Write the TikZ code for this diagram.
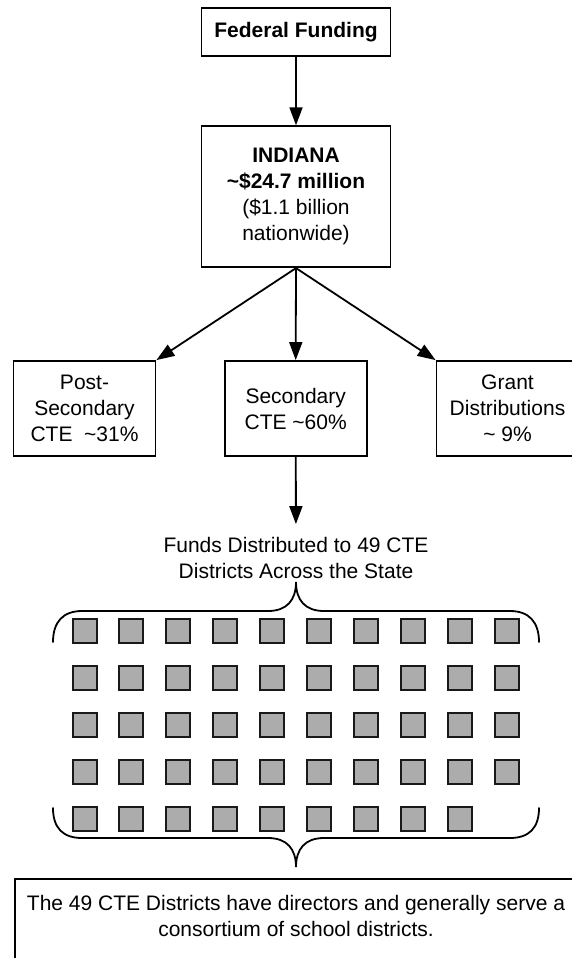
\documentclass[tikz,border=0pt]{standalone}
\usepackage{fontspec}
\setmainfont{Liberation Sans}
\usetikzlibrary{arrows.meta}
\begin{document}
\begin{tikzpicture}[x=1pt,y=-1pt,
  font=\fontsize{21}{26}\selectfont,
  box/.style={draw=black, line width=1.8pt, align=center, inner sep=0pt},
  flow/.style={line width=1.8pt, -{Triangle[length=18pt,width=13pt]}},
  district/.style={draw=black!90, line width=2pt, fill=gray!65, minimum size=24pt, inner sep=0pt},
  brace/.style={line width=1.8pt, line cap=round}]
\useasboundingbox (0,0) rectangle (571,958);

% funding chain
\node[box, minimum width=189pt, minimum height=47.5pt] (fed) at (296,32) {\bfseries Federal Funding};
\node[box, minimum width=189pt, minimum height=141pt] (ind) at (296,196.7)
  {{\bfseries INDIANA}\\{\bfseries \textasciitilde\$24.7 million}\\(\$1.1 billion\\nationwide)};

% the three shares (the right one runs past the page edge)
\node[box, minimum width=142pt, minimum height=95pt] (post) at (84.5,408.5)
  {Post-\\Secondary\\CTE\ \ \textasciitilde31\%};
\node[box, minimum width=142pt, minimum height=95pt] (sec) at (295.7,408.5)
  {Secondary\\CTE \textasciitilde60\%};
\node[draw=black, line width=1.8pt, inner sep=0pt, minimum width=172pt, minimum height=95pt] (grant) at (522.5,408.5)
  {\parbox{142pt}{\centering Grant\\Distributions\\\textasciitilde\ 9\%}\hbox to 30pt{}};

\node[align=center, inner xsep=0pt, inner ysep=13pt] (funds) at (296,558)
  {Funds Distributed to 49 CTE\\Districts Across the State};

\draw[flow] (fed) -- (ind);
\draw[flow] (ind.south) -- (post.north east);
\draw[flow] (ind.south) -- (sec.north);
\draw[flow] (ind.south) -- (grant.north west);
\draw[flow] (sec) -- (funds);

% braces around the district grid
\draw[brace] (53,642) .. controls (53,622) and (63,611) .. (82,611) -- (268,611)
  .. controls (287,611) and (296,600) .. (296,582)
  .. controls (296,600) and (305,611) .. (324,611) -- (510,611)
  .. controls (529,611) and (539,622) .. (539,642);
\draw[brace] (53,808) .. controls (53,828) and (63,838) .. (82,838) -- (268,838)
  .. controls (287,838) and (296,849) .. (296,867)
  .. controls (296,849) and (305,838) .. (324,838) -- (510,838)
  .. controls (529,838) and (539,828) .. (539,808);

% 49 CTE districts
\foreach \r in {0,...,3}
  \foreach \c in {0,...,9}
    \node[district] (d-\r-\c) at ({84.5+46.95*\c},{631+47*\r}) {};
\foreach \c in {0,...,8}
  \node[district] (d-4-\c) at ({84.5+46.95*\c},819) {};

% note (runs past the page edge)
\node[box, minimum width=600pt, minimum height=102pt, anchor=north west] (note) at (14,878) {};
\node[align=center, inner sep=0pt] (notetext) at (296,916)
  {The 49 CTE Districts have directors and generally serve a\\consortium of school districts.};
\end{tikzpicture}
\end{document}
